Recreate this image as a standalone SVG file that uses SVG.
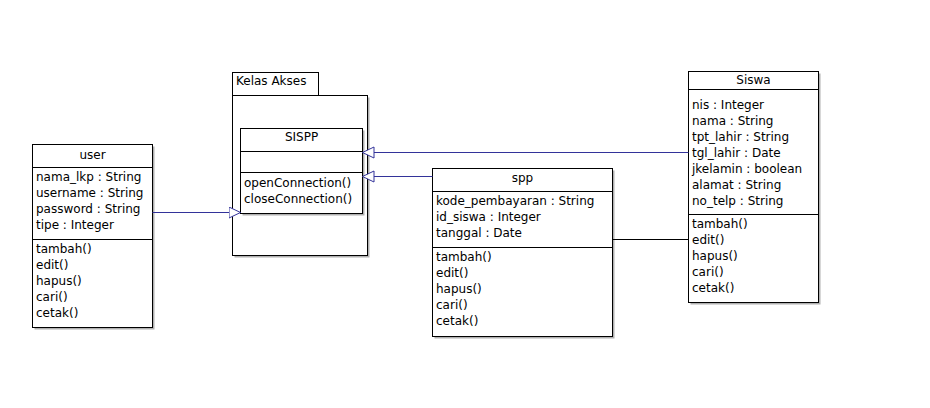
<svg xmlns="http://www.w3.org/2000/svg" width="930" height="408" viewBox="0 0 930 408">
<defs>
<style>
text{font-family:"DejaVu Sans","Liberation Sans",sans-serif;font-size:12px;fill:#000}
.t{text-anchor:middle}
.box{fill:#fff;stroke:#000;stroke-width:1}
.sh{fill:#b0b0b0}
.ln{stroke:#000;stroke-width:1}
.gen{stroke:#33339a;stroke-width:1;fill:none}
.blk{stroke:#000;stroke-width:1;fill:none}
</style>
<marker id="tri" markerWidth="14" markerHeight="14" refX="12" refY="6" orient="auto" markerUnits="userSpaceOnUse">
<path d="M0.5,0.5 L12,6 L0.5,11.5 Z" fill="#fff" stroke="#33339a" stroke-width="1"/>
</marker>
</defs>
<rect width="930" height="408" fill="#fff"/>

<g id="package-kelas-akses">
<rect class="sh" x="234.5" y="97.5" width="135" height="160"/>
<rect class="box" x="232.5" y="72.5" width="86" height="23"/>
<rect class="box" x="232.5" y="95.5" width="135" height="160"/>
<text x="236" y="85">Kelas Akses</text>
</g>

<g id="node-sispp">
<rect class="sh" x="242.5" y="130.5" width="122" height="85"/>
<rect class="box" x="240.5" y="128.5" width="122" height="85"/>
<line class="ln" x1="240.5" y1="151.5" x2="362.5" y2="151.5"/>
<line class="ln" x1="240.5" y1="172.5" x2="362.5" y2="172.5"/>
<text class="t" x="301.5" y="141">SISPP</text>
<text x="244" y="187">openConnection()</text>
<text x="244" y="203">closeConnection()</text>
</g>

<g id="node-user">
<rect class="sh" x="34.5" y="146.5" width="120" height="183"/>
<rect class="box" x="32.5" y="144.5" width="120" height="183"/>
<line class="ln" x1="32.5" y1="167.5" x2="152.5" y2="167.5"/>
<line class="ln" x1="32.5" y1="239.5" x2="152.5" y2="239.5"/>
<text class="t" x="92.5" y="159">user</text>
<text x="36" y="181">nama_lkp : String</text>
<text x="36" y="197">username : String</text>
<text x="36" y="213">password : String</text>
<text x="36" y="229">tipe : Integer</text>
<text x="36" y="253">tambah()</text>
<text x="36" y="269">edit()</text>
<text x="36" y="285">hapus()</text>
<text x="36" y="301">cari()</text>
<text x="36" y="317">cetak()</text>
</g>

<g id="node-spp">
<rect class="sh" x="434.5" y="170.5" width="180" height="168"/>
<rect class="box" x="432.5" y="168.5" width="180" height="168"/>
<line class="ln" x1="432.5" y1="191.5" x2="612.5" y2="191.5"/>
<line class="ln" x1="432.5" y1="247.5" x2="612.5" y2="247.5"/>
<text class="t" x="522.5" y="182">spp</text>
<text x="436" y="205">kode_pembayaran : String</text>
<text x="436" y="221">id_siswa : Integer</text>
<text x="436" y="237">tanggal : Date</text>
<text x="436" y="261">tambah()</text>
<text x="436" y="277">edit()</text>
<text x="436" y="293">hapus()</text>
<text x="436" y="309">cari()</text>
<text x="436" y="325">cetak()</text>
</g>

<g id="node-siswa">
<rect class="sh" x="690.5" y="73.5" width="130" height="231"/>
<rect class="box" x="688.5" y="71.5" width="130" height="231"/>
<line class="ln" x1="688.5" y1="89.5" x2="818.5" y2="89.5"/>
<line class="ln" x1="688.5" y1="214.5" x2="818.5" y2="214.5"/>
<text class="t" x="753.5" y="84">Siswa</text>
<text x="692" y="109">nis : Integer</text>
<text x="692" y="125">nama : String</text>
<text x="692" y="141">tpt_lahir : String</text>
<text x="692" y="157">tgl_lahir : Date</text>
<text x="692" y="173">jkelamin : boolean</text>
<text x="692" y="189">alamat : String</text>
<text x="692" y="205">no_telp : String</text>
<text x="692" y="228">tambah()</text>
<text x="692" y="244">edit()</text>
<text x="692" y="260">hapus()</text>
<text x="692" y="276">cari()</text>
<text x="692" y="292">cetak()</text>
</g>

<g id="connectors">
<line class="gen" x1="152.5" y1="212.5" x2="240.5" y2="212.5" marker-end="url(#tri)"/>
<line class="gen" x1="688.5" y1="152.5" x2="362.5" y2="152.5" marker-end="url(#tri)"/>
<line class="gen" x1="432.5" y1="176.5" x2="362.5" y2="176.5" marker-end="url(#tri)"/>
<line class="blk" x1="612.5" y1="239.5" x2="688.5" y2="239.5"/>
</g>
</svg>
